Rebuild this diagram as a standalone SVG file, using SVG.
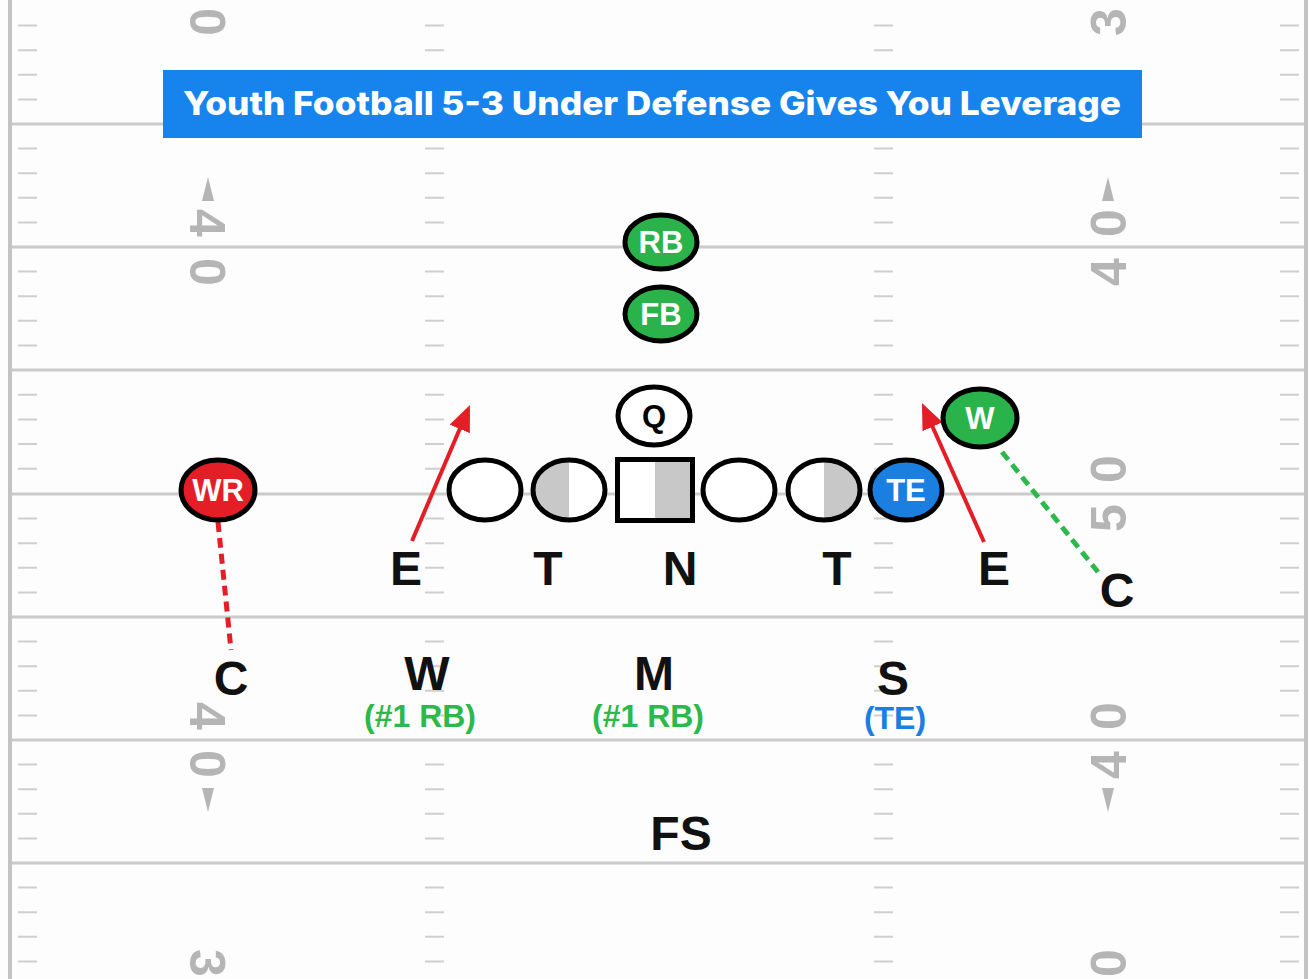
<svg xmlns="http://www.w3.org/2000/svg" width="1309" height="979" viewBox="0 0 1309 979">
<defs>
<style>
.yl{stroke:#cbcbcb;stroke-width:3;fill:none}
.hs{stroke:#cfcfcf;stroke-width:2;fill:none}
.num{font-family:"Liberation Sans",Arial,sans-serif;font-weight:bold;font-size:50px;fill:#b5b5b5;text-anchor:middle}
.arw{fill:#b5b5b5}
.pl{stroke:#000;stroke-width:5}
.pt{font-family:"Liberation Sans",Arial,sans-serif;font-weight:bold;font-size:31px;fill:#fff;text-anchor:middle}
.lbl{font-family:"Liberation Sans",Arial,sans-serif;font-weight:bold;font-size:48px;fill:#111;text-anchor:middle}
.sub{font-family:"Liberation Sans",Arial,sans-serif;font-weight:bold;font-size:32px;text-anchor:middle}
.run{stroke:#e41e26;stroke-width:4;fill:none}
.dash{stroke-width:5;fill:none;stroke-dasharray:10 6}
</style>
<marker id="ah" markerUnits="userSpaceOnUse" markerWidth="26" markerHeight="22" refX="20" refY="11" orient="auto">
<path d="M0,0 L26,11 L0,22 z" fill="#e41e26"/>
</marker>
<path id="hashes" class="hs" d="M0,25.6h19M0,50.2h19M0,74.8h19M0,99.4h19M0,148.6h19M0,173.2h19M0,197.8h19M0,222.4h19M0,271.6h19M0,296.2h19M0,320.8h19M0,345.4h19M0,394.7h19M0,419.4h19M0,444h19M0,468.7h19M0,518.6h19M0,543.2h19M0,567.8h19M0,592.4h19M0,641.6h19M0,666.2h19M0,690.8h19M0,715.4h19M0,764.6h19M0,789.2h19M0,813.8h19M0,838.4h19M0,887.6h19M0,912.2h19M0,936.8h19M0,961.4h19"/>
</defs>

<g id="field">
<rect x="0" y="0" width="1309" height="979" fill="#fdfdfd"/>
<rect x="8" y="0" width="4" height="979" fill="#c4c4c4"/>
<rect x="1304" y="0" width="4" height="979" fill="#c4c4c4"/>
<path class="yl" d="M12,124H1304M12,247H1304M12,370H1304M12,494H1304M12,617H1304M12,740H1304M12,863H1304"/>
<use href="#hashes" x="18"/>
<use href="#hashes" x="425"/>
<use href="#hashes" x="874"/>
<use href="#hashes" x="1280"/>
</g>

<g id="yard-numbers">
<text class="num" transform="translate(208,22) rotate(90)" y="18">0</text>
<polygon class="arw" points="208,177 202,201 214,201"/>
<text class="num" transform="translate(208,223) rotate(90)" y="18">4</text>
<text class="num" transform="translate(208,272) rotate(90)" y="18">0</text>
<text class="num" transform="translate(208,716) rotate(90)" y="18">4</text>
<text class="num" transform="translate(208,764) rotate(90)" y="18">0</text>
<polygon class="arw" points="208,812 202,788 214,788"/>
<text class="num" transform="translate(208,963) rotate(90)" y="18">3</text>
<text class="num" transform="translate(1108,22) rotate(-90)" y="18">3</text>
<polygon class="arw" points="1108,177 1102,201 1114,201"/>
<text class="num" transform="translate(1108,223) rotate(-90)" y="18">0</text>
<text class="num" transform="translate(1108,272) rotate(-90)" y="18">4</text>
<text class="num" transform="translate(1108,469) rotate(-90)" y="18">0</text>
<text class="num" transform="translate(1108,518) rotate(-90)" y="18">5</text>
<text class="num" transform="translate(1108,716) rotate(-90)" y="18">0</text>
<text class="num" transform="translate(1108,765) rotate(-90)" y="18">4</text>
<polygon class="arw" points="1108,812 1102,788 1114,788"/>
<text class="num" transform="translate(1108,963) rotate(-90)" y="18">0</text>
</g>

<g id="title">
<rect x="163" y="70" width="979" height="68" fill="#1784ee"/>
<text x="652" y="115" font-family="Inter, Liberation Sans, Arial, sans-serif" font-weight="800" font-size="33" fill="#fff" text-anchor="middle" textLength="938" lengthAdjust="spacingAndGlyphs">Youth Football 5-3 Under Defense Gives You Leverage</text>
</g>

<g id="connectors">
<line class="run" x1="412" y1="541" x2="467.6" y2="410.5" marker-end="url(#ah)"/>
<line class="run" x1="984" y1="542" x2="924.4" y2="408.5" marker-end="url(#ah)"/>
<line class="dash" stroke="#e41e26" x1="218" y1="522" x2="231" y2="650"/>
<line class="dash" stroke="#2db84c" x1="1002" y1="452" x2="1098" y2="572"/>
</g>

<g id="rb">
<ellipse class="pl" cx="661" cy="242" rx="36" ry="27" fill="#2ab34b"/>
<text class="pt" x="661" y="253">RB</text>
</g>
<g id="fb">
<ellipse class="pl" cx="661" cy="314" rx="36" ry="27" fill="#2ab34b"/>
<text class="pt" x="661" y="325">FB</text>
</g>
<g id="q">
<ellipse class="pl" cx="654" cy="416" rx="36" ry="29" fill="#fff"/>
<text class="pt" x="654" y="427" style="fill:#000">Q</text>
</g>
<g id="ol1">
<ellipse class="pl" cx="485" cy="490" rx="36" ry="30" fill="#fff"/>
</g>
<g id="ol2">
<ellipse cx="569" cy="490" rx="36" ry="30" fill="#fff"/>
<path d="M569,460 A36,30 0 0 0 569,520 z" fill="#c8c8c8"/>
<ellipse class="pl" cx="569" cy="490" rx="36" ry="30" fill="none"/>
</g>
<g id="center">
<rect x="617.5" y="459.5" width="75" height="61" fill="#fff"/>
<rect x="655" y="459.5" width="37.5" height="61" fill="#c8c8c8"/>
<rect class="pl" x="617.5" y="459.5" width="75" height="61" fill="none"/>
</g>
<g id="ol4">
<ellipse class="pl" cx="739" cy="490" rx="36" ry="30" fill="#fff"/>
</g>
<g id="ol5">
<ellipse cx="824" cy="490" rx="36" ry="30" fill="#fff"/>
<path d="M824,460 A36,30 0 0 1 824,520 z" fill="#c8c8c8"/>
<ellipse class="pl" cx="824" cy="490" rx="36" ry="30" fill="none"/>
</g>
<g id="te">
<ellipse class="pl" cx="906" cy="490" rx="36" ry="30" fill="#1a7fe0"/>
<text class="pt" x="906" y="501">TE</text>
</g>
<g id="wr">
<ellipse class="pl" cx="218" cy="490" rx="37" ry="30" fill="#e41e26"/>
<text class="pt" x="218" y="501">WR</text>
</g>
<g id="wing">
<ellipse class="pl" cx="980" cy="418" rx="37" ry="29" fill="#2ab34b"/>
<text class="pt" x="980" y="429">W</text>
</g>

<g id="def-e-left"><text class="lbl" x="406" y="585">E</text></g>
<g id="def-t-left"><text class="lbl" x="548" y="585">T</text></g>
<g id="def-n"><text class="lbl" x="680" y="585">N</text></g>
<g id="def-t-right"><text class="lbl" x="837" y="585">T</text></g>
<g id="def-e-right"><text class="lbl" x="994" y="585">E</text></g>
<g id="def-c-right"><text class="lbl" x="1117" y="607">C</text></g>
<g id="def-c-left"><text class="lbl" x="231" y="695">C</text></g>
<g id="def-w">
<text class="lbl" x="427" y="690">W</text>
<text class="sub" x="420" y="727" fill="#2db84c">(#1 RB)</text>
</g>
<g id="def-m">
<text class="lbl" x="654" y="690">M</text>
<text class="sub" x="648" y="727" fill="#2db84c">(#1 RB)</text>
</g>
<g id="def-s">
<text class="lbl" x="893" y="695">S</text>
<text class="sub" x="895" y="729" fill="#1a7fe0">(TE)</text>
</g>
<g id="def-fs"><text class="lbl" x="681" y="850">FS</text></g>
</svg>
